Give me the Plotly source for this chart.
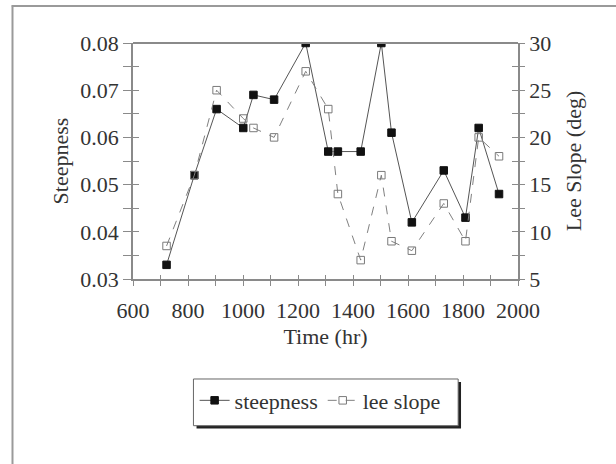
import plotly.graph_objects as go

time_hr = [722, 823, 904, 1001, 1038, 1113, 1228, 1310, 1345, 1428, 1503, 1540, 1614, 1730, 1809, 1857, 1931]
steepness = [0.033, 0.052, 0.066, 0.062, 0.069, 0.068, 0.080, 0.057, 0.057, 0.057, 0.080, 0.061, 0.042, 0.053, 0.043, 0.062, 0.048]
lee_slope = [8.5, 16, 25, 22, 21, 20, 27, 23, 14, 7, 16, 9, 8, 13, 9, 20, 18]

FONT = "Liberation Serif, Times New Roman, serif"
AX = "#8a8a8a"
TXT = "#333333"

fig = go.Figure()
fig.add_trace(go.Scatter(
    x=time_hr, y=steepness, name="steepness", mode="lines+markers",
    line=dict(color="#555555", width=1),
    marker=dict(symbol="square", size=7.5, color="#111111", line=dict(color="#111111", width=1)),
    xaxis="x", yaxis="y"))
fig.add_trace(go.Scatter(
    x=time_hr, y=lee_slope, name="lee slope", mode="lines+markers",
    line=dict(color="#808080", width=1, dash="dash"),
    marker=dict(symbol="square-open", size=7.5, color="#7a7a7a", line=dict(color="#7a7a7a", width=1)),
    xaxis="x", yaxis="y2"))
# empty traces to host overlay axes used for inward tick halves
fig.add_trace(go.Scatter(x=[], y=[], xaxis="x2", yaxis="y3", showlegend=False, hoverinfo="skip"))
fig.add_trace(go.Scatter(x=[], y=[], xaxis="x2", yaxis="y4", showlegend=False, hoverinfo="skip"))

tickfont = dict(family=FONT, size=22, color=TXT)

fig.update_layout(
    width=616, height=464,
    margin=dict(l=132.5, r=97.5, t=43, b=185),
    paper_bgcolor="white", plot_bgcolor="white",
    font=dict(family=FONT, size=22, color=TXT),
    xaxis=dict(
        range=[600, 2000], dtick=200, tick0=600, showgrid=False, zeroline=False,
        showline=True, linecolor=AX, linewidth=1.5, mirror=False,
        ticks="outside", ticklen=5, tickcolor=AX, tickwidth=1,
        minor=dict(dtick=100, ticks="outside", ticklen=5, tickcolor=AX, tickwidth=1),
        tickfont=tickfont, ticklabelstandoff=6,
        title=dict(text="Time (hr)", font=dict(family=FONT, size=22, color=TXT), standoff=6),
    ),
    xaxis2=dict(
        range=[600, 2000], overlaying="x", showgrid=False, zeroline=False, showline=False,
        ticks="inside", ticklen=4, tickcolor=AX, dtick=100, tick0=600, showticklabels=False,
    ),
    yaxis=dict(
        range=[0.03, 0.08], dtick=0.01, tickformat=".2f", showgrid=False, zeroline=False,
        showline=True, linecolor=AX, linewidth=1.5,
        ticks="outside", ticklen=8, tickcolor=AX, tickwidth=1,
        minor=dict(dtick=0.005, ticks="outside", ticklen=8, tickcolor=AX, tickwidth=1),
        tickfont=tickfont,
        title=dict(text="Steepness", font=dict(family=FONT, size=22, color=TXT), standoff=6),
    ),
    yaxis2=dict(
        range=[5, 30], dtick=5, overlaying="y", side="right", showgrid=False, zeroline=False,
        showline=True, linecolor=AX, linewidth=1.5,
        ticks="outside", ticklen=5, tickcolor=AX, tickwidth=1,
        minor=dict(dtick=2.5, ticks="outside", ticklen=5, tickcolor=AX, tickwidth=1),
        tickfont=tickfont,
        title=dict(text="Lee Slope (deg)", font=dict(family=FONT, size=22, color=TXT), standoff=15),
    ),
    yaxis3=dict(
        range=[0.03, 0.08], overlaying="y", showgrid=False, zeroline=False, showline=False,
        ticks="inside", ticklen=6, tickcolor=AX, dtick=0.005, tick0=0.03, showticklabels=False,
    ),
    yaxis4=dict(
        range=[5, 30], overlaying="y", side="right", showgrid=False, zeroline=False, showline=False,
        ticks="inside", ticklen=6, tickcolor=AX, dtick=2.5, tick0=5, showticklabels=False,
    ),
    legend=dict(
        orientation="h", x=0.486, xanchor="center", y=-0.515, yanchor="middle",
        bgcolor="rgba(0,0,0,0)", borderwidth=0, itemwidth=30,
        font=dict(family=FONT, size=22, color=TXT),
    ),
    showlegend=True,
)

shapes = [
    # top mirror line of plot
    dict(type="line", xref="paper", yref="paper", x0=0, x1=1, y0=1, y1=1,
         line=dict(color=AX, width=2)),
    # outer frame (top and left)
    dict(type="line", xref="paper", yref="paper", x0=-0.315, x1=1.3, y0=1.157, y1=1.157,
         line=dict(color="#9a9a9a", width=2)),
    dict(type="line", xref="paper", yref="paper", x0=-0.313, x1=-0.313, y0=1.16, y1=-0.82,
         line=dict(color="#9a9a9a", width=2)),
    # legend shadow and box
    dict(type="rect", xref="paper", yref="paper", x0=0.165, x1=0.852, y0=-0.436, y1=-0.634,
         fillcolor="#222222", line=dict(width=0)),
    dict(type="rect", xref="paper", yref="paper", x0=0.157, x1=0.8446, y0=-0.4237, y1=-0.6216,
         fillcolor="white", line=dict(color="#666666", width=1)),
]
fig.update_layout(shapes=shapes)

fig.write_html("out.html")
